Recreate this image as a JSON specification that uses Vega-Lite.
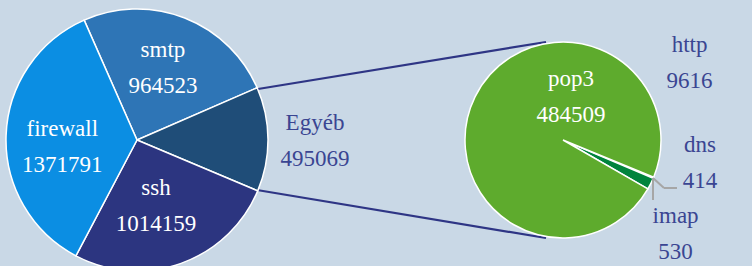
{
  "$schema": "https://vega.github.io/schema/vega-lite/v6.json",
  "width": 752,
  "height": 252,
  "autosize": {"type": "none"},
  "padding": {"left": 0, "right": 0, "top": 14, "bottom": 0},
  "background": "#c9d8e6",
  "config": {"view": {"stroke": null}, "mark": {"font": "Liberation Serif"}, "text": {"font": "Liberation Serif", "fontSize": 23}},
  "data": {"values": [
    {"pie": "main", "name": "smtp", "value": 964523},
    {"pie": "main", "name": "Egyéb", "value": 495069},
    {"pie": "main", "name": "ssh", "value": 1014159},
    {"pie": "main", "name": "firewall", "value": 1371791},
    {"pie": "detail", "name": "dns", "value": 414},
    {"pie": "detail", "name": "imap", "value": 530},
    {"pie": "detail", "name": "http", "value": 9616},
    {"pie": "detail", "name": "pop3", "value": 484509}
  ]},
  "encoding": {
    "x": {"field": "pie", "type": "nominal", "scale": {"type": "point", "domain": ["main", "detail"], "range": [137, 563], "padding": 0}, "axis": null}
  },
  "resolve": {"scale": {"theta": "independent"}},
  "layer": [
    {
      "transform": [{"filter": "datum.name === 'Egyéb'"}],
      "mark": {"type": "rule", "color": "#2e3585", "strokeWidth": 2.2, "xOffset": 121, "yOffset": -51, "x2Offset": -17, "y2Offset": -98},
      "encoding": {
        "x2": {"datum": "detail"},
        "y": {"datum": 0, "type": "quantitative", "scale": {"domain": [-1, 1]}, "axis": null},
        "y2": {"datum": 0}
      }
    },
    {
      "transform": [{"filter": "datum.name === 'Egyéb'"}],
      "mark": {"type": "rule", "color": "#2e3585", "strokeWidth": 2.2, "xOffset": 120, "yOffset": 50, "x2Offset": -17, "y2Offset": 98},
      "encoding": {
        "x2": {"datum": "detail"},
        "y": {"datum": 0, "type": "quantitative", "scale": {"domain": [-1, 1]}, "axis": null},
        "y2": {"datum": 0}
      }
    },
    {
      "transform": [{"filter": "datum.pie === 'main'"}],
      "layer": [
        {
          "mark": {"type": "arc", "outerRadius": 131, "stroke": "#ffffff", "strokeWidth": 1.5},
          "encoding": {
            "theta": {"field": "value", "type": "quantitative", "stack": true, "scale": {"range": [-0.415, 5.868]}},
            "color": {"condition": [
              {"test": "datum.name === 'smtp'", "value": "#2e75b6"},
              {"test": "datum.name === 'Egyéb'", "value": "#1f4d78"},
              {"test": "datum.name === 'ssh'", "value": "#2c3580"}
            ], "value": "#0b8ee3"}
          }
        },
        {
          "transform": [{"filter": "datum.name === 'smtp'"}],
          "layer": [
            {"mark": {"type": "text", "font": "Liberation Serif", "theta": 0.344, "radius": 77, "dy": -18, "fill": "#ffffff"}, "encoding": {"text": {"field": "name", "type": "nominal"}}},
            {"mark": {"type": "text", "font": "Liberation Serif", "theta": 0.344, "radius": 77, "dy": 18, "fill": "#ffffff"}, "encoding": {"text": {"field": "value", "type": "quantitative", "format": "d"}}}
          ]
        },
        {
          "transform": [{"filter": "datum.name === 'firewall'"}],
          "layer": [
            {"mark": {"type": "text", "font": "Liberation Serif", "theta": 4.62, "radius": 75, "dy": -18, "fill": "#ffffff"}, "encoding": {"text": {"field": "name", "type": "nominal"}}},
            {"mark": {"type": "text", "font": "Liberation Serif", "theta": 4.62, "radius": 75, "dy": 18, "fill": "#ffffff"}, "encoding": {"text": {"field": "value", "type": "quantitative", "format": "d"}}}
          ]
        },
        {
          "transform": [{"filter": "datum.name === 'ssh'"}],
          "layer": [
            {"mark": {"type": "text", "font": "Liberation Serif", "theta": 2.862, "radius": 69, "dy": -18, "fill": "#ffffff"}, "encoding": {"text": {"field": "name", "type": "nominal"}}},
            {"mark": {"type": "text", "font": "Liberation Serif", "theta": 2.862, "radius": 69, "dy": 18, "fill": "#ffffff"}, "encoding": {"text": {"field": "value", "type": "quantitative", "format": "d"}}}
          ]
        },
        {
          "transform": [{"filter": "datum.name === 'Egyéb'"}],
          "layer": [
            {"mark": {"type": "text", "font": "Liberation Serif", "theta": 1.577, "radius": 178, "dy": -18, "fill": "#3a4592"}, "encoding": {"text": {"field": "name", "type": "nominal"}}},
            {"mark": {"type": "text", "font": "Liberation Serif", "theta": 1.577, "radius": 178, "dy": 18, "fill": "#3a4592"}, "encoding": {"text": {"field": "value", "type": "quantitative", "format": "d"}}}
          ]
        }
      ]
    },
    {
      "transform": [{"filter": "datum.pie === 'detail'"}],
      "layer": [
        {
          "mark": {"type": "arc", "outerRadius": 98, "stroke": "#ffffff", "strokeWidth": 1.5},
          "encoding": {
            "theta": {"field": "value", "type": "quantitative", "stack": true, "scale": {"range": [1.96, 8.243]}},
            "color": {"condition": [
              {"test": "datum.name === 'pop3'", "value": "#5eab2d"},
              {"test": "datum.name === 'http'", "value": "#00843d"}
            ], "value": "#ffffff"}
          }
        },
        {
          "transform": [{"filter": "datum.name === 'pop3'"}],
          "layer": [
            {"mark": {"type": "text", "font": "Liberation Serif", "theta": 0.184, "radius": 44, "dy": -18, "fill": "#ffffff"}, "encoding": {"text": {"field": "name", "type": "nominal"}}},
            {"mark": {"type": "text", "font": "Liberation Serif", "theta": 0.184, "radius": 44, "dy": 18, "fill": "#ffffff"}, "encoding": {"text": {"field": "value", "type": "quantitative", "format": "d"}}}
          ]
        },
        {
          "transform": [{"filter": "datum.name === 'http'"}],
          "layer": [
            {"mark": {"type": "text", "font": "Liberation Serif", "theta": 1.026, "radius": 148, "dy": -18, "fill": "#3a4592"}, "encoding": {"text": {"field": "name", "type": "nominal"}}},
            {"mark": {"type": "text", "font": "Liberation Serif", "theta": 1.026, "radius": 148, "dy": 18, "fill": "#3a4592"}, "encoding": {"text": {"field": "value", "type": "quantitative", "format": "d"}}}
          ]
        },
        {
          "transform": [{"filter": "datum.name === 'dns'"}],
          "layer": [
            {"mark": {"type": "text", "font": "Liberation Serif", "theta": 1.737, "radius": 139, "dy": -18, "fill": "#3a4592"}, "encoding": {"text": {"field": "name", "type": "nominal"}}},
            {"mark": {"type": "text", "font": "Liberation Serif", "theta": 1.737, "radius": 139, "dy": 18, "fill": "#3a4592"}, "encoding": {"text": {"field": "value", "type": "quantitative", "format": "d"}}}
          ]
        },
        {
          "transform": [{"filter": "datum.name === 'imap'"}],
          "layer": [
            {"mark": {"type": "text", "font": "Liberation Serif", "theta": 2.269, "radius": 147, "dy": -18, "fill": "#3a4592"}, "encoding": {"text": {"field": "name", "type": "nominal"}}},
            {"mark": {"type": "text", "font": "Liberation Serif", "theta": 2.269, "radius": 147, "dy": 18, "fill": "#3a4592"}, "encoding": {"text": {"field": "value", "type": "quantitative", "format": "d"}}}
          ]
        },
        {
          "transform": [{"filter": "datum.name === 'dns'"}],
          "mark": {"type": "rule", "color": "#a6a6a6", "strokeWidth": 2, "xOffset": 90, "yOffset": 38, "x2Offset": 90, "y2Offset": 60},
          "encoding": {
            "x2": {"datum": "detail"},
            "y": {"datum": 0, "type": "quantitative", "scale": {"domain": [-1, 1]}, "axis": null},
            "y2": {"datum": 0}
          }
        },
        {
          "transform": [{"filter": "datum.name === 'dns'"}],
          "mark": {"type": "rule", "color": "#a6a6a6", "strokeWidth": 2, "xOffset": 90, "yOffset": 38, "x2Offset": 101, "y2Offset": 48},
          "encoding": {
            "x2": {"datum": "detail"},
            "y": {"datum": 0, "type": "quantitative", "scale": {"domain": [-1, 1]}, "axis": null},
            "y2": {"datum": 0}
          }
        },
        {
          "transform": [{"filter": "datum.name === 'dns'"}],
          "mark": {"type": "rule", "color": "#a6a6a6", "strokeWidth": 2, "xOffset": 101, "yOffset": 48, "x2Offset": 114, "y2Offset": 48},
          "encoding": {
            "x2": {"datum": "detail"},
            "y": {"datum": 0, "type": "quantitative", "scale": {"domain": [-1, 1]}, "axis": null},
            "y2": {"datum": 0}
          }
        }
      ]
    }
  ]
}
